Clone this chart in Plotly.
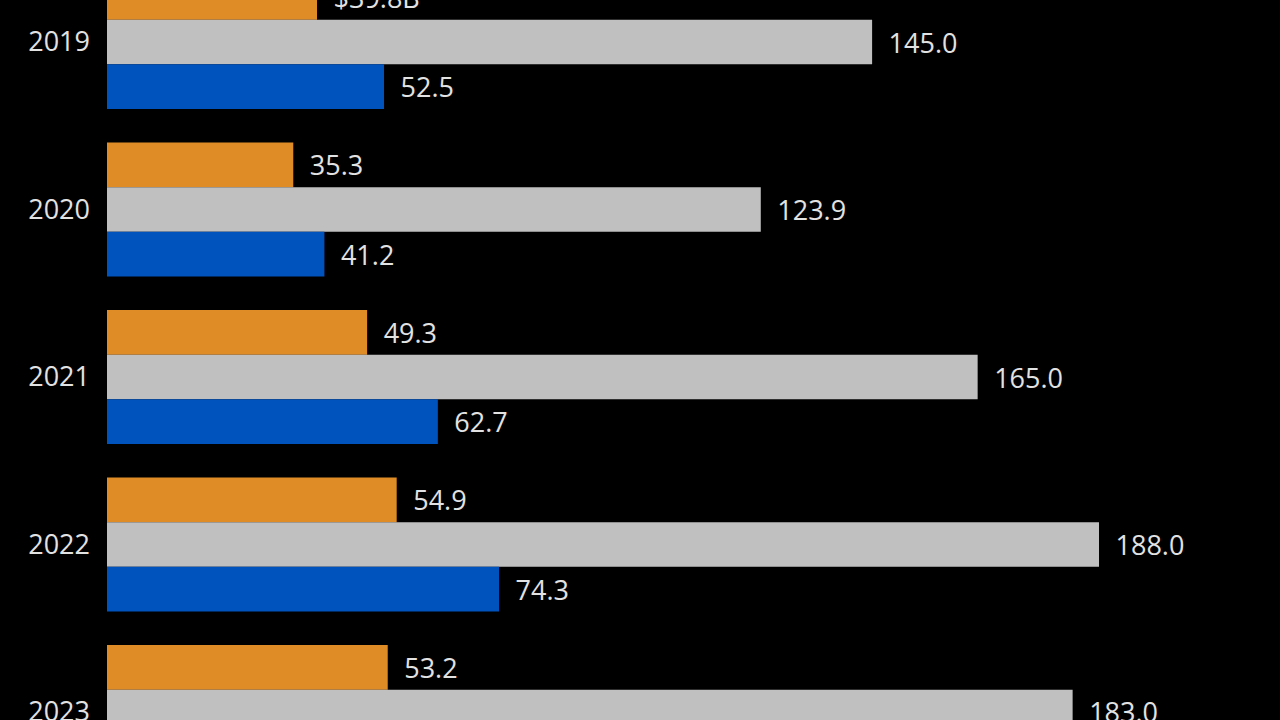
import plotly.graph_objects as go

years = ["2019", "2020", "2021", "2022", "2023"]
orange_vals = [39.8, 35.3, 49.3, 54.9, 53.2]
gray_vals = [145.0, 123.9, 165.0, 188.0, 183.0]
blue_vals = [52.5, 41.2, 62.7, 74.3, None]

orange_text = ["$39.8B"] + [f"{v:.1f}" for v in orange_vals[1:]]
gray_text = [f"{v:.1f}" for v in gray_vals]
blue_text = [f"{v:.1f}" if v is not None else "" for v in blue_vals]

ypos = list(range(len(years)))

font_main = dict(family="Open Sans, Lato, sans-serif", size=27, color="#e2e2e2")
pad = "\u2002"

fig = go.Figure()
for vals, txt, col in [
    (orange_vals, orange_text, "#DF8C27"),
    (gray_vals, gray_text, "#C1C0C0"),
    (blue_vals, blue_text, "#0052BD"),
]:
    fig.add_trace(go.Bar(
        x=vals, y=ypos, orientation="h",
        marker=dict(color=col, line=dict(width=0)),
        text=[pad + t if t else "" for t in txt],
        textposition="outside",
        textfont=font_main,
        cliponaxis=True,
        hoverinfo="skip",
    ))

fig.update_layout(
    width=1280, height=720,
    paper_bgcolor="#000000", plot_bgcolor="#000000",
    margin=dict(l=107, r=0, t=0, b=0, autoexpand=False),
    barmode="group", bargap=0.2, bargroupgap=0,
    showlegend=False,
)
fig.update_xaxes(range=[0, 222.3], visible=False, showgrid=False, zeroline=False,
                 automargin=False)
fig.update_yaxes(
    range=[4.048, -0.251], tickvals=ypos, ticktext=years,
    showgrid=False, zeroline=False, showline=False,
    tickfont=font_main, ticklabelstandoff=16, ticks="",
    ticklabeloverflow="allow", automargin=False,
)

fig.write_html(
    "out.html",
    config={"displayModeBar": False},
    post_script="document.body.style.margin='0';document.body.style.background='#000';",
)
